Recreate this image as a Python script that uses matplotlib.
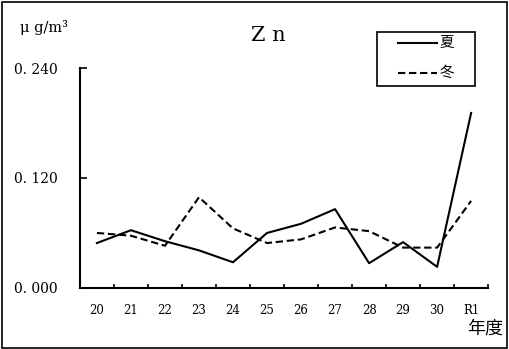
import numpy as np
import matplotlib.pyplot as plt
from matplotlib.lines import Line2D
from matplotlib.patches import Rectangle

years = ['20', '21', '22', '23', '24', '25', '26', '27', '28', '29', '30', 'R1']
summer = [0.049, 0.063, 0.051, 0.041, 0.028, 0.060, 0.070, 0.086, 0.027, 0.050, 0.023, 0.191]
winter = [0.060, 0.057, 0.046, 0.099, 0.065, 0.049, 0.053, 0.066, 0.062, 0.044, 0.044, 0.095]
yticks = [0.0, 0.12, 0.24]
ytick_labels = ['0. 000', '0. 120', '0. 240']
series_names = ['夏', '冬']

serif = ['DejaVu Serif']
cjk = ['Noto Sans CJK JP', 'DejaVu Sans']
dash = (0, (3.5, 1.8))

fig = plt.figure(figsize=(5.09, 3.49), dpi=100)
# outer frame around the whole chart
fig.patches.append(Rectangle((0.004, 0.004), 0.992, 0.99, transform=fig.transFigure,
                             fill=False, edgecolor='black', linewidth=1.2))

ax = fig.add_axes([0.157, 0.175, 0.802, 0.63])
x = np.arange(len(years))
ax.plot(x, summer, color='black', linewidth=1.5)
ax.plot(x, winter, color='black', linewidth=1.5, linestyle=dash)

ax.set_xlim(-0.5, len(years) - 0.5)
ax.set_ylim(0, 0.24)
for s in ['top', 'right']:
    ax.spines[s].set_visible(False)
ax.spines['left'].set_linewidth(1.5)
ax.spines['bottom'].set_linewidth(1.5)

# ticks sit on category boundaries, labels in the middle
ax.set_xticks(np.arange(len(years) + 1) - 0.5)
ax.set_xticklabels([])
ax.set_xticks(x, minor=True)
ax.set_xticklabels(years, minor=True, fontsize=8.5, family=serif)
ax.tick_params(axis='x', which='major', direction='in', length=3, width=1.2)
ax.tick_params(axis='x', which='minor', length=0, pad=11.5)

ax.set_yticks(yticks)
ax.set_yticklabels(ytick_labels, fontsize=10, family=serif)
ax.tick_params(axis='y', direction='in', length=5, width=1.2, pad=16)

fig.text(0.527, 0.897, 'Z n', ha='center', va='center', fontsize=15, family=serif)
fig.text(0.04, 0.92, 'μ g/m³', ha='left', va='center', fontsize=10.5, family=serif)
fig.text(0.988, 0.058, '年度', ha='right', va='center', fontsize=13, family=cjk)

# legend box drawn by hand
fig.patches.append(Rectangle((0.741, 0.754), 0.192, 0.155, transform=fig.transFigure,
                             fill=False, edgecolor='black', linewidth=1.2))
for yy, ls, name in [(0.877, '-', series_names[0]), (0.791, dash, series_names[1])]:
    fig.add_artist(Line2D([0.782, 0.859], [yy, yy], transform=fig.transFigure,
                          color='black', linewidth=1.5, linestyle=ls))
    fig.text(0.864, yy, name, ha='left', va='center', fontsize=10.5, family=cjk)

fig.savefig('out.png', dpi=100)
